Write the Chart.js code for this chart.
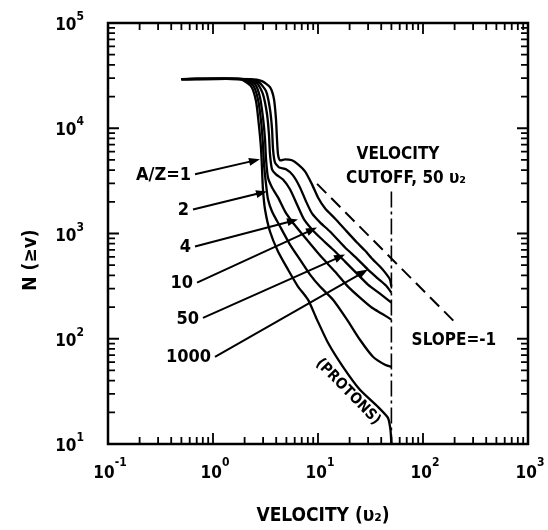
<!DOCTYPE html>
<html><head><meta charset="utf-8">
<script src="https://cdn.jsdelivr.net/npm/chart.js@4.4.1/dist/chart.umd.min.js"></script>
<style>html,body{margin:0;padding:0;background:#fff}#wrap{width:548px;height:530px}</style>
</head><body><div id="wrap"><canvas id="c" width="548" height="530"></canvas></div>
<script>
// ---- tick labels ----
const xDecades = [0.1, 1, 10, 100, 1000];
const xExponents = ['-1', '0', '1', '2', '3'];
const yDecades = [10, 100, 1000, 10000, 100000];
const yExponents = ['1', '2', '3', '4', '5'];
const xTitle = 'VELOCITY (\u03c5\u2082)';
const yTitle = 'N (\u2265v)';

// ---- series (velocity in u2, N(>=v)) ----
const seriesLabels = ['A/Z=1', '2', '4', '10', '50', '1000'];
const vAZ1 = [0.5, 1.81, 2.30, 2.57, 2.73, 2.87, 2.93, 2.99, 3.13, 3.49, 4.16, 5.18, 6.45, 8.03, 9.78, 12.45, 17.3, 25.1, 37.3, 46.4, 49, 50];
const nAZ1 = [29300, 29300, 25120, 18070, 10920, 6310, 4070, 2630, 1690, 1045, 674, 454, 313, 235, 152, 91.6, 54.1, 32.7, 22.5, 17.7, 13.6, 10];
const vAZ2 = [0.5, 1.89, 2.40, 2.68, 2.87, 2.99, 3.06, 3.20, 3.34, 3.65, 4.35, 5.41, 6.74, 8.40, 10.45, 13.9, 18.9, 25.1, 33.4, 43.5, 50];
const nAZ2 = [29300, 29300, 25700, 18890, 11660, 7040, 4540, 2930, 2110, 1621, 1166, 785, 565, 407, 313, 235, 152, 97.8, 67.4, 56.5, 54.1];
const vAZ4 = [0.5, 1.97, 2.51, 2.80, 2.99, 3.13, 3.20, 3.34, 3.65, 4.16, 4.85, 5.65, 6.74, 8.40, 10.9, 14.5, 19.3, 25.1, 32.7, 40.7, 50];
const nAZ4 = [29300, 29300, 26250, 19740, 12740, 7850, 5070, 3410, 2742, 2203, 1621, 1300, 1045, 803, 591, 435, 313, 246, 197, 173, 152];
const vAZ10 = [0.5, 2.06, 2.63, 2.99, 3.27, 3.41, 3.49, 3.65, 3.98, 4.64, 5.41, 6.31, 7.36, 8.77, 10.45, 13.9, 18.1, 23.5, 29.9, 38.9, 50];
const nAZ10 = [29300, 29300, 26850, 21080, 13590, 8770, 5650, 4070, 3650, 3260, 2630, 1888, 1360, 1092, 916, 704, 541, 416, 327, 268, 220];
const vAZ50 = [0.5, 2.15, 2.74, 3.20, 3.49, 3.65, 3.73, 3.89, 4.25, 4.96, 5.78, 6.74, 7.69, 8.77, 10.45, 13.0, 18.1, 23.5, 29.9, 37.3, 44.4, 50];
const nAZ50 = [29300, 29300, 27400, 22500, 15170, 9780, 6310, 4740, 4250, 4070, 3566, 2742, 2018, 1550, 1274, 1045, 736, 578, 454, 373, 320, 274];
const vAZ1000 = [0.5, 2.25, 2.93, 3.49, 3.81, 3.98, 4.07, 4.16, 4.35, 4.85, 5.65, 6.45, 7.52, 8.77, 10.0, 11.7, 14.5, 18.1, 23.5, 28.0, 33.4, 38.9, 44.4, 48.5, 50];
const nAZ1000 = [29300, 29300, 28050, 24570, 18890, 12190, 7850, 5650, 4960, 5070, 4960, 4540, 3890, 2930, 2200, 1730, 1390, 1090, 821, 689, 565, 485, 416, 365, 313];

// velocity cutoff (dash-dot) and slope = -1 reference (dashed)
const cutoffV = [50, 50];
const cutoffN = [2510, 10];
const slopeV = [9.8, 211];
const slopeN = [2960, 137];

// ---- annotations (data coordinates) ----
const arrowFromV = [0.674, 0.645, 0.674, 0.705, 0.803, 1.045];
const arrowFromN = [3650, 1690, 752, 341, 158, 67.4];
const arrowToV = [2.80, 3.27, 6.45, 9.78, 18.1, 29.9];
const arrowToN = [5070, 2510, 1360, 1140, 631, 454];
const noteTexts = ['VELOCITY', 'CUTOFF, 50 \u03c5\u2082', 'SLOPE=-1', '(PROTONS)'];
const noteV = [57.8, 68.9, 197, 19.3];
const noteN = [5650, 3342, 95.7, 31.3];

const FONT = '"DejaVu Sans Condensed", "DejaVu Sans", sans-serif';
const toXY = (vs, ns) => vs.map((v, i) => ({x: v, y: ns[i]}));
const curves = [[vAZ1, nAZ1], [vAZ2, nAZ2], [vAZ4, nAZ4], [vAZ10, nAZ10], [vAZ50, nAZ50], [vAZ1000, nAZ1000]];

const datasets = curves.map((c, i) => ({
  label: 'A/Z ' + seriesLabels[i], data: toXY(c[0], c[1]),
  borderColor: '#000', borderWidth: 2.3, tension: 0.2, pointRadius: 0, fill: false
}));
datasets.push({label: 'cutoff', data: toXY(cutoffV, cutoffN), borderColor: '#000', borderWidth: 1.6,
  borderDash: [16, 4, 3, 4], pointRadius: 0, tension: 0});
datasets.push({label: 'slope', data: toXY(slopeV, slopeN), borderColor: '#000', borderWidth: 2,
  borderDash: [13, 7], pointRadius: 0, tension: 0});

const deco = {
  id: 'deco',
  afterDatasetsDraw(chart) {
    const ctx = chart.ctx, a = chart.chartArea, xs = chart.scales.x, ys = chart.scales.y;
    ctx.save();
    ctx.strokeStyle = '#000'; ctx.fillStyle = '#000';
    // frame
    ctx.lineWidth = 2.5;
    ctx.strokeRect(a.left, a.top, a.right - a.left, a.bottom - a.top);
    // ticks
    ctx.lineWidth = 1.8;
    for (let d = 0; d < xDecades.length; d++) {
      for (let m = 1; m <= 9; m++) {
        const val = xDecades[d] * m;
        if (val > xs.max * 1.0001) break;
        const px = xs.getPixelForValue(val);
        const len = m === 1 ? 11 : 7;
        ctx.beginPath();
        ctx.moveTo(px, a.bottom); ctx.lineTo(px, a.bottom - len);
        ctx.moveTo(px, a.top); ctx.lineTo(px, a.top + len);
        ctx.stroke();
      }
    }
    for (let d = 0; d < yDecades.length; d++) {
      for (let m = 1; m <= 9; m++) {
        const val = yDecades[d] * m;
        if (val > ys.max * 1.0001) break;
        const py = ys.getPixelForValue(val);
        const len = m === 1 ? 11 : 7;
        ctx.beginPath();
        ctx.moveTo(a.left, py); ctx.lineTo(a.left + len, py);
        ctx.moveTo(a.right, py); ctx.lineTo(a.right - len, py);
        ctx.stroke();
      }
    }
    // tick labels
    const base = 'bold 17px ' + FONT, sup = 'bold 12px ' + FONT;
    ctx.textBaseline = 'alphabetic';
    xDecades.forEach((val, i) => {
      const px = xs.getPixelForValue(val);
      ctx.font = base; const w1 = ctx.measureText('10').width;
      ctx.font = sup; const w2 = ctx.measureText(xExponents[i]).width;
      const x0 = px - (w1 + w2) / 2 + 2;
      ctx.font = base; ctx.textAlign = 'left'; ctx.fillText('10', x0, 478);
      ctx.font = sup; ctx.fillText(xExponents[i], x0 + w1, 466);
    });
    yDecades.forEach((val, i) => {
      const py = ys.getPixelForValue(val);
      ctx.font = sup; const w2 = ctx.measureText(yExponents[i]).width;
      ctx.font = base; const w1 = ctx.measureText('10').width;
      const x0 = 84 - w1 - w2;
      ctx.textAlign = 'left';
      ctx.fillText('10', x0, py + 7);
      ctx.font = sup; ctx.fillText(yExponents[i], x0 + w1, py - 3);
    });
    // axis titles
    ctx.font = 'bold 19px ' + FONT; ctx.textAlign = 'center'; ctx.textBaseline = 'middle';
    ctx.fillText(xTitle, (a.left + a.right) / 2 + 5, 516);
    ctx.save(); ctx.translate(31, 260); ctx.rotate(-Math.PI / 2);
    ctx.fillText(yTitle, 0, 0); ctx.restore();
    // arrows and labels
    ctx.lineWidth = 2;
    seriesLabels.forEach((t, i) => {
      const x1 = xs.getPixelForValue(arrowFromV[i]), y1 = ys.getPixelForValue(arrowFromN[i]);
      const x2 = xs.getPixelForValue(arrowToV[i]), y2 = ys.getPixelForValue(arrowToN[i]);
      const ang = Math.atan2(y2 - y1, x2 - x1);
      ctx.beginPath(); ctx.moveTo(x1, y1);
      ctx.lineTo(x2 - 8 * Math.cos(ang), y2 - 8 * Math.sin(ang)); ctx.stroke();
      ctx.beginPath();
      ctx.moveTo(x2, y2);
      ctx.lineTo(x2 - 11 * Math.cos(ang) + 4 * Math.sin(ang), y2 - 11 * Math.sin(ang) - 4 * Math.cos(ang));
      ctx.lineTo(x2 - 11 * Math.cos(ang) - 4 * Math.sin(ang), y2 - 11 * Math.sin(ang) + 4 * Math.cos(ang));
      ctx.closePath(); ctx.fill();
      ctx.font = 'bold 18px ' + FONT; ctx.textAlign = 'right'; ctx.textBaseline = 'middle';
      ctx.fillText(t, x1 - 4, y1 + 1);
    });
    // notes
    ctx.font = 'bold 17px ' + FONT; ctx.textAlign = 'center'; ctx.textBaseline = 'middle';
    for (let i = 0; i < 3; i++) {
      ctx.fillText(noteTexts[i], xs.getPixelForValue(noteV[i]), ys.getPixelForValue(noteN[i]));
    }
    ctx.save();
    ctx.translate(xs.getPixelForValue(noteV[3]), ys.getPixelForValue(noteN[3]));
    ctx.rotate(0.8);
    ctx.font = 'bold 15px ' + FONT;
    ctx.fillText(noteTexts[3], 0, 0);
    ctx.restore();
    ctx.restore();
  }
};

new Chart(document.getElementById('c'), {
  type: 'line',
  data: {datasets},
  options: {
    responsive: false, animation: false,
    layout: {padding: {left: 0, right: 20, top: 23, bottom: 0}},
    plugins: {legend: {display: false}, tooltip: {enabled: false}},
    elements: {point: {radius: 0}},
    scales: {
      x: {type: 'logarithmic', position: 'bottom', min: 0.1, max: 1000,
          ticks: {display: false}, grid: {display: false}, border: {display: false},
          afterFit: s => { s.height = 86; }},
      y: {type: 'logarithmic', position: 'left', min: 10, max: 100000,
          ticks: {display: false}, grid: {display: false}, border: {display: false},
          afterFit: s => { s.width = 108; }}
    }
  },
  plugins: [deco]
});
</script></body></html>
